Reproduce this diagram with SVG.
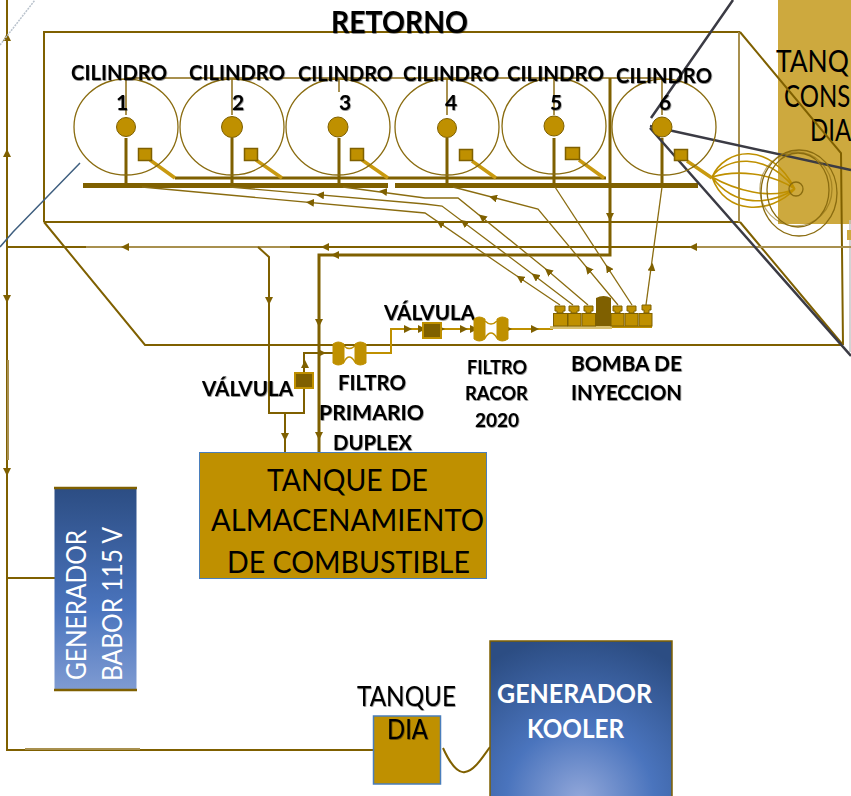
<svg xmlns="http://www.w3.org/2000/svg" width="851" height="796" viewBox="0 0 851 796">
<style>
text{font-family:Lato,"Liberation Sans",sans-serif;text-anchor:start}
.b{font-weight:700;fill:#000;font-size:21px;filter:url(#sh)}
.r{fill:#000;font-size:30px}
.w{fill:#fff;font-size:26px}
.p{fill:none;stroke:#7f6000;stroke-width:2}
.t{fill:none;stroke:#7f6000;stroke-width:3}
.m{fill:none;stroke:none;marker-mid:url(#a)}
.i{fill:none;stroke:#8a6c10;stroke-width:1.300}
.h{fill:none;stroke:#a8904f;stroke-width:2}
.c{fill:none;stroke:#8a6c10;stroke-width:1.300}
.g{fill:none;stroke:#bf9000;stroke-width:2}
.d{fill:none;stroke:#3b3b44;stroke-width:2.500}
.ball{fill:#bf9000;stroke:#7f6000;stroke-width:1}
.sq{fill:#bf9000;stroke:#7f6000;stroke-width:1.500}
.st{fill:none;stroke:#c99a10;stroke-width:3.500}
.v{fill:#7f6000;stroke:#bf9000;stroke-width:2}
.f{fill:#bf9000;stroke:#7f6000;stroke-width:1}
</style>
<defs>
<filter id="sh" x="-5%" y="-10%" width="110%" height="130%"><feDropShadow dx="0.6" dy="0.8" stdDeviation="0.5" flood-color="#000" flood-opacity="0.55"/></filter>
<marker id="a" viewBox="0 0 8 8" refX="4" refY="4" markerWidth="8" markerHeight="8" markerUnits="userSpaceOnUse" orient="auto"><path d="M0 0L8 4L0 8Z" fill="#7f6000"/></marker>
<linearGradient id="gb" x1="0" y1="0" x2="0" y2="1"><stop offset="0" stop-color="#2c4d83"/><stop offset="0.6" stop-color="#4a74bd"/><stop offset="1" stop-color="#7f9bd2"/></linearGradient>
<radialGradient id="gk" gradientUnits="userSpaceOnUse" cx="580" cy="800" r="165"><stop offset="0" stop-color="#93a8da"/><stop offset="0.45" stop-color="#4a74bd"/><stop offset="1" stop-color="#2c4d83"/></radialGradient>
</defs>

<g id="tanque-consumo-dia">
<rect x="778" y="0" width="73" height="224" fill="#cda93e"/>
<text class="r" transform="translate(776 72) scale(.88 1)">TANQ</text>
<text class="r" transform="translate(784 107) scale(.8 1)">CONS</text>
<text class="r" transform="translate(810 141) scale(.8 1)">DIA</text>
</g>

<g id="connectors">
<path class="p" d="M44 222V32H740M44 222H740M44 222L145 345H843"/>
<path class="h" d="M739 32V222"/>
<path class="p" d="M740 32L841 153L843 345M740 222L843 345"/>
<path d="M850 220V352" fill="none" stroke="#c4c4c4" stroke-width="1.500"/>
<rect x="847" y="230" width="4" height="10" fill="#cda93e"/>
<path class="p" d="M7 0V750H373M7 578H55M7 247H851"/>
<path class="h" d="M86 247H290M690 247H851M25 749H140M8 360V460"/>
<path class="h" d="M126 78H662M126 78V115M232 78V115M339 78V92M447 78V115M554 78V115M662 78V115"/>
<path class="t" d="M610 78V255H319V452"/>
<path class="p" d="M258 247L269 257V413H304V353H333M285 413V452" stroke-width="2.500"/>
<path class="t" d="M126 138V185M232 138V185M339 138V185M447 138V185M554 138V185M662 138V185"/>
<path d="M83 185.500H388M395 185.500H698" fill="none" stroke="#7f6000" stroke-width="5"/>
<path d="M175 178H606" fill="none" stroke="#7f6000" stroke-width="3"/>
<path class="st" d="M150 160L175 178M256 160L282 178M362 160L388 178M472 161L496 178M579 160L604 178M687 161L712 178"/>
<path class="i" d="M646 305L662 187"/>
<path class="i" d="M632 305L555 187"/>
<path class="i" d="M618 305L538 209L453 187"/>
<path class="i" d="M588 305L547 270L458 198H425L343 187"/>
<path class="i" d="M573 305L527 270L442 206L425 204L230 187"/>
<path class="i" d="M560 305L508 270L425 213L142 187"/>
<path class="m" d="M646 305L652 267L662 187"/>
<path class="m" d="M632 305L608 268L555 187"/>
<path class="m" d="M618 305L588 269L538 209"/>
<path class="m" d="M538 209L493 197.500L453 187"/>
<path class="m" d="M588 305L548 271L458 198"/>
<path class="m" d="M547 270L482 217L458 198"/>
<path class="m" d="M425 197L383 191.500L343 187"/>
<path class="m" d="M573 305L535 276L442 206"/>
<path class="m" d="M527 270L464 222.500L442 206"/>
<path class="m" d="M425 204L320 195L230 187"/>
<path class="m" d="M560 305L520 278L425 213"/>
<path class="m" d="M508 270L440 223L425 213"/>
<path class="m" d="M425 213L310 202.500L142 187"/>
<path class="m" d="M7 200V153V100"/>
<path class="m" d="M7 60V37V10"/>
<path class="m" d="M7 280V299V320"/>
<path class="m" d="M7 450V472V490"/>
<path class="m" d="M851 247H693H325H125H8"/>
<path class="m" d="M610 180V217V255"/>
<path class="m" d="M610 255H335H320"/>
<path class="m" d="M269 257V301V400"/>
<path class="m" d="M319 260V323V436V452"/>
<path class="m" d="M285 413V437V452"/>
<path class="m" d="M305 373V364V354"/>
<path class="m" d="M305 353H322H333"/>
<path class="g" d="M366 353H391V329H422M441 329H474M508 329H553"/>
<path class="m" d="M391 329H408H422M441 329H464H474M508 329H535H553"/>
<path d="M443 748C452 768 460 773 465 772C474 771 482 758 490 747" fill="none" stroke="#7f6000" stroke-width="2"/>
<path class="d" d="M733 0L651 118M650 126L851 170M650 128L851 356"/>
<path d="M0 247L13 232L80 163" fill="none" stroke="#3f5f7f" stroke-width="1.500"/>
<path d="M0 45L35 0" fill="none" stroke="#b9c2cc" stroke-width="1.500" stroke-dasharray="2 1"/>
</g>

<g id="motor">
<path d="M712 177C725 148 770 140 795 189M712 177C725 158 765 150 795 189M712 177C735 170 770 172 795 189M712 177C735 190 770 200 795 189M712 177C735 208 770 205 795 189M712 177C725 215 770 215 795 189" fill="none" stroke="#bf9000" stroke-width="1.600"/>
<ellipse class="c" cx="798" cy="190" rx="31" ry="37"/>
<ellipse class="c" cx="799" cy="193" rx="38" ry="43"/>
<ellipse class="c" cx="796" cy="189" rx="36" ry="37" stroke-opacity="0.6"/>
<circle class="c" cx="796" cy="189" r="7"/>
</g>

<g id="cilindro-1">
<ellipse class="c" cx="126" cy="127" rx="52" ry="48" stroke-width="1.500"/><circle class="ball" cx="126" cy="127" r="9.500"/><rect class="sq" x="138.500" y="148.500" width="13" height="12"/>
<text class="b" x="71" y="80" textLength="96" lengthAdjust="spacingAndGlyphs">CILINDRO</text><text class="b" x="116" y="110">1</text>
</g>
<g id="cilindro-2">
<ellipse class="c" cx="232" cy="127" rx="52" ry="48" stroke-width="1.500"/><circle class="ball" cx="232" cy="127" r="10.500"/><rect class="sq" x="244.500" y="148.500" width="13" height="12"/>
<text class="b" x="189" y="80" textLength="96" lengthAdjust="spacingAndGlyphs">CILINDRO</text><text class="b" x="232" y="110">2</text>
</g>
<g id="cilindro-3">
<ellipse class="c" cx="338" cy="127" rx="52" ry="48" stroke-width="1.500"/><circle class="ball" cx="338" cy="127" r="10"/><rect class="sq" x="350.500" y="148.500" width="13" height="12"/>
<text class="b" x="298" y="81" textLength="95" lengthAdjust="spacingAndGlyphs">CILINDRO</text><text class="b" x="339" y="110">3</text>
</g>
<g id="cilindro-4">
<ellipse class="c" cx="447" cy="127" rx="52" ry="48" stroke-width="1.500"/><circle class="ball" cx="447" cy="128" r="9.500"/><rect class="sq" x="459.500" y="149.500" width="13" height="11"/>
<text class="b" x="403" y="81" textLength="96" lengthAdjust="spacingAndGlyphs">CILINDRO</text><text class="b" x="445" y="110">4</text>
</g>
<g id="cilindro-5">
<ellipse class="c" cx="554" cy="126" rx="52" ry="48" stroke-width="1.500"/><circle class="ball" cx="554" cy="126" r="10"/><rect class="sq" x="565.500" y="147.500" width="14" height="12"/>
<text class="b" x="507" y="81" textLength="97" lengthAdjust="spacingAndGlyphs">CILINDRO</text><text class="b" x="550" y="110">5</text>
</g>
<g id="cilindro-6">
<ellipse class="c" cx="664" cy="127" rx="52" ry="48" stroke-width="1.500"/><circle class="ball" cx="662" cy="127" r="10"/><rect class="sq" x="674.500" y="149.500" width="13" height="11"/>
<text class="b" x="616" y="83" textLength="96" lengthAdjust="spacingAndGlyphs">CILINDRO</text><text class="b" x="659" y="110">6</text>
</g>

<g id="retorno"><text class="b" x="331" y="33" style="font-size:30px" textLength="137" lengthAdjust="spacingAndGlyphs">RETORNO</text></g>

<g id="valvula-1">
<rect class="v" x="295" y="373" width="18" height="15"/>
<text class="b" x="202" y="396" textLength="91" lengthAdjust="spacingAndGlyphs">VÁLVULA</text>
</g>
<g id="filtro-primario">
<path class="f" d="M333 344Q338 340 344 344V363Q338 367 333 363ZM355 344Q360 340 366 344V363Q360 367 355 363Z" style="stroke:#bf9000"/>
<path d="M344 346Q349 351 355 346M344 362Q349 352 355 362" fill="none" stroke="#bf9000" stroke-width="1.500"/>
<text class="b" x="338" y="390" textLength="68" lengthAdjust="spacingAndGlyphs">FILTRO</text>
<text class="b" x="319" y="420" textLength="105" lengthAdjust="spacingAndGlyphs">PRIMARIO</text>
<text class="b" x="333" y="450" textLength="79" lengthAdjust="spacingAndGlyphs">DUPLEX</text>
</g>
<g id="valvula-2">
<rect class="v" x="423" y="323" width="18" height="15"/>
<text class="b" x="384" y="320" textLength="91" lengthAdjust="spacingAndGlyphs">VÁLVULA</text>
</g>
<g id="filtro-racor">
<path class="f" d="M474 319Q479 315 485 319V339Q479 343 474 339ZM497 319Q502 315 508 319V339Q502 343 497 339Z" style="stroke:#bf9000"/>
<path d="M485 321Q491 327 497 321M485 338Q491 328 497 338" fill="none" stroke="#bf9000" stroke-width="1.500"/>
<text class="b" x="467" y="374" style="font-size:19px" textLength="60" lengthAdjust="spacingAndGlyphs">FILTRO</text>
<text class="b" x="465" y="400" style="font-size:19px" textLength="63" lengthAdjust="spacingAndGlyphs">RACOR</text>
<text class="b" x="475" y="427" style="font-size:19px" textLength="44" lengthAdjust="spacingAndGlyphs">2020</text>
</g>
<g id="bomba">
<path d="M552 327H652" stroke="#bf9000" stroke-width="2" fill="none"/>
<rect x="550" y="326" width="62" height="3" fill="#d8c070"/>
<rect class="f" x="553.500" y="313.500" width="14" height="12.500"/><rect class="f" x="568" y="313.500" width="13" height="12.500"/><rect class="f" x="582" y="313.500" width="13.500" height="12.500"/><rect class="f" x="611" y="313.500" width="13" height="12.500"/><rect class="f" x="625" y="313.500" width="13" height="12.500"/><rect class="f" x="639" y="313.500" width="13" height="12.500"/>
<path class="f" d="M555 306H565V311H563V313H557V311H555ZM569 306H579V311H577V313H571V311H569ZM584 306H593V311H591V313H586V311H584ZM613 306H622V311H620V313H615V311H613ZM627 306H636V311H634V313H629V311H627ZM642 305H651V310H649V313H644V310H642Z"/>
<path d="M596 298Q603.500 294 611 298V326H596Z" fill="#7f6000"/>
<text class="b" x="571" y="371" textLength="111" lengthAdjust="spacingAndGlyphs">BOMBA DE</text>
<text class="b" x="571" y="400" textLength="111" lengthAdjust="spacingAndGlyphs">INYECCION</text>
</g>
<g id="tanque-almacenamiento">
<rect x="199.500" y="452.500" width="287" height="126" fill="#bf9000" stroke="#4a7ebb"/>
<text class="r" x="267" y="491" textLength="161" lengthAdjust="spacingAndGlyphs">TANQUE DE</text>
<text class="r" x="211" y="531" textLength="273" lengthAdjust="spacingAndGlyphs">ALMACENAMIENTO</text>
<text class="r" x="227" y="573" textLength="243" lengthAdjust="spacingAndGlyphs">DE COMBUSTIBLE</text>
</g>
<g id="generador-babor">
<rect x="54.500" y="488" width="82" height="202" fill="url(#gb)"/>
<path d="M54 488H137M54 690H137" stroke="#7f6000" stroke-width="2.500" fill="none"/>
<text class="w" transform="translate(86 680) rotate(-90)" textLength="150" lengthAdjust="spacingAndGlyphs">GENERADOR</text>
<text class="w" transform="translate(122 681) rotate(-90)" textLength="154" lengthAdjust="spacingAndGlyphs">BABOR 115 V</text>
</g>
<g id="tanque-dia">
<rect x="373.500" y="716" width="67" height="68" fill="#bf9000" stroke="#4a7ebb" stroke-width="1.500"/>
<text class="r" x="357" y="706" style="font-size:27px;filter:url(#sh)" textLength="99" lengthAdjust="spacingAndGlyphs">TANQUE</text>
<text class="r" x="387" y="739" style="font-size:27px;filter:url(#sh)" textLength="41" lengthAdjust="spacingAndGlyphs">DIA</text>
</g>
<g id="generador-kooler">
<rect x="490" y="641" width="182" height="160" fill="url(#gk)" stroke="#7f6000" stroke-width="1.500"/>
<text class="w" x="497" y="703" style="font-weight:700" textLength="155" lengthAdjust="spacingAndGlyphs">GENERADOR</text>
<text class="w" x="527" y="738" style="font-weight:700" textLength="97" lengthAdjust="spacingAndGlyphs">KOOLER</text>
</g>
</svg>
